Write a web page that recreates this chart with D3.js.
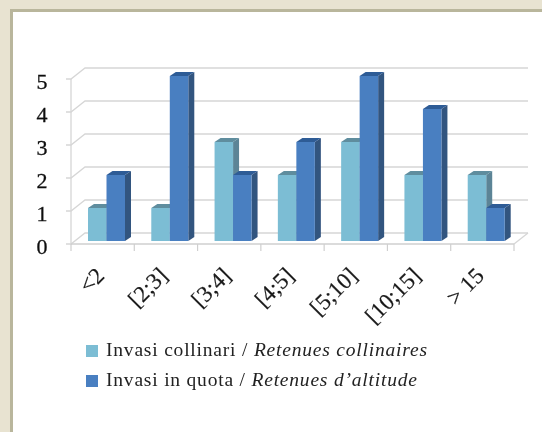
<!doctype html>
<html lang="en">
<head>
<meta charset="utf-8">
<style>
html, body { margin: 0; padding: 0; background: #fff; }
svg { display: block; }
</style>
</head>
<body>
<svg width="542" height="432"></svg>
<script src="https://d3js.org/d3.v7.min.js"></script>
<script>

var categories = ["<2", "[2;3]", "[3;4]", "[4;5]", "[5;10]", "[10;15]", "> 15"];
var collinari = [1, 1, 3, 2, 3, 2, 2];
var quota = [2, 5, 2, 3, 5, 4, 1];
var yTicks = [0, 1, 2, 3, 4, 5];

var svg = d3.select("svg"),
    depthX = 6, depthY = 4,     // bar extrusion
    floorX = 14, floorY = 11;   // chart floor depth

// the scan is soft, a slight blur gets closer to it
svg.append("filter").attr("id", "soft")
  .append("feGaussianBlur").attr("stdDeviation", 0.45);

// frame: only left and top edges are in the crop
svg.append("rect").attr("width", 542).attr("height", 432).attr("fill", "#e8e3d1");
svg.append("rect").attr("x", 10).attr("y", 9).attr("width", 532).attr("height", 423).attr("fill", "#b9b69c");
svg.append("rect").attr("x", 13).attr("y", 12).attr("width", 529).attr("height", 420).attr("fill", "#fff");

var chart = svg.append("g").attr("filter", "url(#soft)");

var x = d3.scaleBand().domain(categories).range([71, 514]);
var y = d3.scaleLinear().domain([0, 5]).range([244, 79]);

// back wall gridlines, side wall diagonals
var grid = chart.append("g").attr("stroke", "#d6d6d6").attr("stroke-width", 1.3).attr("fill", "none");
yTicks.forEach(function(t) {
  grid.append("path").attr("d", d3.line()([
    [x.range()[0] - 5, y(t)], [x.range()[0], y(t)],
    [x.range()[0] + floorX, y(t) - floorY], [x.range()[1] + floorX, y(t) - floorY]
  ]));
});
grid.append("line").attr("x1", 71).attr("x2", 71).attr("y1", y(5)).attr("y2", y(0));
grid.append("line").attr("x1", 514).attr("x2", 528).attr("y1", y(0)).attr("y2", y(0) - floorY);

// front floor edge and category ticks
chart.append("line").attr("x1", 71).attr("x2", 514).attr("y1", 244).attr("y2", 244)
  .attr("stroke", "#cfcfcf").attr("stroke-width", 1.6);
chart.append("g").selectAll("line").data(categories.concat(["end"])).join("line")
  .attr("x1", function(d, i) { return 71 + i * x.step(); })
  .attr("x2", function(d, i) { return 71 + i * x.step(); })
  .attr("y1", 244).attr("y2", 251)
  .attr("stroke", "#cfcfcf").attr("stroke-width", 1.2);

function drawBars(values, offset, front, top, side) {
  var base = y(0) - 3, w = 18.5;
  var g = chart.append("g");
  values.forEach(function(v, i) {
    var x0 = x(categories[i]) + 17 + offset, yt = y(v) - 3;
    g.append("polygon").attr("fill", side).attr("points", [
      [x0 + w, yt], [x0 + w + depthX, yt - depthY],
      [x0 + w + depthX, base - depthY], [x0 + w, base]].join(" "));
    g.append("polygon").attr("fill", top).attr("points", [
      [x0, yt], [x0 + depthX, yt - depthY],
      [x0 + w + depthX, yt - depthY], [x0 + w, yt]].join(" "));
    g.append("rect").attr("x", x0).attr("y", yt).attr("width", w).attr("height", base - yt).attr("fill", front);
  });
}
drawBars(collinari, 0, "#7cbdd4", "#5e8d9e", "#5b8496");
drawBars(quota, 18.5, "#4a7fc1", "#2f5c96", "#33547f");

// y labels
chart.append("g").selectAll("text").data(yTicks).join("text")
  .attr("x", 42).attr("y", function(d) { return y(d) + 9.5; })
  .attr("text-anchor", "middle")
  .attr("font-family", "Liberation Serif").attr("font-size", 22).attr("fill", "#111")
  .attr("stroke", "#111").attr("stroke-width", 0.3)
  .text(function(d) { return d; });

// x labels
chart.append("g").selectAll("text").data(categories).join("text")
  .attr("transform", function(d) { return "translate(" + (x(d) + x.step() / 2 + 3) + ",277) rotate(-45)"; })
  .attr("text-anchor", "end")
  .attr("font-family", "Liberation Serif").attr("font-size", 23).attr("fill", "#1a1a1a")
  .attr("stroke", "#1a1a1a").attr("stroke-width", 0.2)
  .text(function(d) { return d; });

// legend
var legend = [
  ["Invasi collinari / ", "Retenues collinaires", "#7cbdd4", 356],
  ["Invasi in quota / ", "Retenues d\u2019altitude", "#4a7fc1", 386]
];
legend.forEach(function(l) {
  chart.append("rect").attr("x", 86).attr("y", l[3] - 11).attr("width", 12).attr("height", 12).attr("fill", l[2]);
  var t = chart.append("text").attr("x", 106).attr("y", l[3])
    .attr("font-family", "Liberation Serif").attr("font-size", 19.5).attr("fill", "#222")
    .attr("letter-spacing", 0.8);
  t.append("tspan").text(l[0]);
  t.append("tspan").attr("font-style", "italic").text(l[1]);
});

</script>
</body>
</html>
